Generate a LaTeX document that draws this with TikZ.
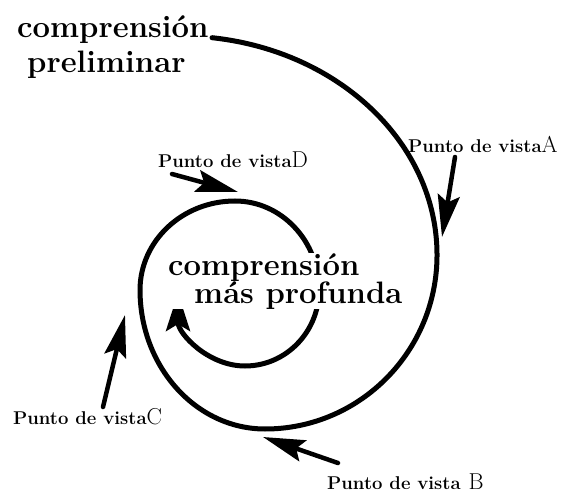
\documentclass[tikz,border=0pt]{standalone}
\usepackage{fontspec}
\usetikzlibrary{arrows.meta}
\newcommand{\letra}[1]{{\fontsize{23}{23}\selectfont\mdseries #1}}

\begin{document}
\begin{tikzpicture}[x=1pt,y=-1pt,line cap=round]
	\tikzstyle{espiral}=[line width=5pt,-{Stealth[length=38pt,width=24pt,inset=7pt]}];
	\tikzstyle{flecha}=[line width=4.5pt,-{Stealth[length=42pt,width=22pt,inset=7pt]}];
	\tikzstyle{idea}=[inner sep=0pt,align=left,font=\fontsize{31}{35}\selectfont\bfseries];
	\tikzstyle{vista}=[inner sep=0pt,font=\fontsize{18.5}{18.5}\selectfont\bfseries];
	\useasboundingbox (0,0) rectangle (564,493);
	%% spiral, one quarter after another
	\coordinate (inicio) at (212,37.7);
	\draw[espiral] (inicio)
		arc[start angle=-82.85,end angle=0,x radius=257,y radius=219]
		arc[start angle=0,end angle=90,x radius=172,y radius=174]
		arc[start angle=90,end angle=180,x radius=125,y radius=139]
		arc[start angle=180,end angle=270,x radius=95,y radius=89]
		arc[start angle=270,end angle=360,x radius=84,y radius=89]
		arc[start angle=0,end angle=90,x radius=74,y radius=76]
		arc[start angle=90,end angle=180,x radius=67,y radius=73];
	%% texts
	\node[idea,anchor=base west] (prelim) at (17,72) {comprensión\\\hspace*{10pt}preliminar};
	\node[idea,anchor=base west,fill=white] (profunda) at (168,303) {comprensión\\[-7pt]\hspace*{26pt}más profunda};
	%% points of view
	\node[vista,anchor=base west] (vA) at (408,152) {Punto de vista\letra{A}};
	\node[vista,anchor=base west] (vD) at (158,167) {Punto de vista\letra{D}};
	\node[vista,anchor=base west] (vC) at (13,424)  {Punto de vista\letra{C}};
	\node[vista,anchor=base west] (vB) at (327,489) {Punto de vista\hspace{8pt}\letra{B}};
	\coordinate (tA) at (442,237);
	\coordinate (tD) at (238,192);
	\coordinate (tC) at (125,315);
	\coordinate (tB) at (263,437);
	\draw[flecha] ([shift={(47pt,-5pt)}]vA.base west) -- (tA);
	\draw[flecha] ([shift={(14pt,-7pt)}]vD.base west) -- (tD);
	\draw[flecha] ([shift={(90pt,17pt)}]vC.base west) -- (tC);
	\draw[flecha] ([shift={(11pt,26pt)}]vB.base west) -- (tB);
\end{tikzpicture}
\end{document}
